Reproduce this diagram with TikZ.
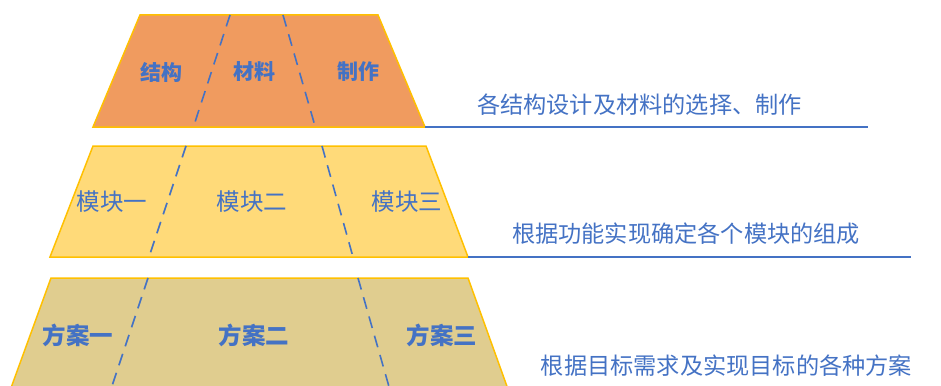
\documentclass[tikz,border=0pt]{standalone}
\usepackage{fontspec}
\setmainfont{Noto Sans CJK SC}
\newfontfamily\cjkb[BoldFont={Noto Sans CJK SC Bold}]{Noto Sans CJK SC}
\definecolor{topfill}{HTML}{F09B5F}
\definecolor{midfill}{HTML}{FFDA79}
\definecolor{botfill}{HTML}{E0CD8F}
\definecolor{edgegold}{HTML}{FFC000}
\definecolor{txtblue}{HTML}{4472C4}
\tikzset{
  layer/.style={draw=edgegold, line width=1.5pt, line join=miter},
  divider/.style={draw=txtblue, line width=1.6pt, dash pattern=on 12pt off 8pt},
  baseline rule/.style={draw=txtblue, line width=1.6pt},
  lbl/.style={text=txtblue, inner sep=0pt, font=\fontsize{23.5}{27}\selectfont},
  lblbold/.style={text=txtblue, inner sep=0pt, font=\fontsize{23.5}{27}\selectfont\bfseries},
  lbltop/.style={text=txtblue, inner sep=0pt, font=\fontsize{21}{25}\selectfont\bfseries},
  desc/.style={text=txtblue, inner sep=0pt, font=\fontsize{23.2}{27}\selectfont},
}
\begin{document}
\begin{tikzpicture}[x=1pt,y=-1pt]
\useasboundingbox (0,0) rectangle (941,385);
\clip (0,0) rectangle (941,385);
% top layer
\path[layer, fill=topfill] (140,15) -- (378,15) -- (425,127) -- (93,127) -- cycle;
\coordinate (t1a) at (230,15); \coordinate (t1b) at (193.4,127);
\coordinate (t2a) at (283,15); \coordinate (t2b) at (315.3,127);
\draw[divider] (t1a) -- (t1b);
\draw[divider] (t2a) -- (t2b);
\node[lbltop] (jg) at (161,72) {结构};
\node[lbltop] (cl) at (254,72) {材料};
\node[lbltop] (zz) at (358,72) {制作};
\coordinate (r1a) at (425,127); \coordinate (r1b) at (868,127);
\draw[baseline rule] (r1a) -- (r1b);
\node[desc] (d1) at (639.5,105) {各结构设计及材料的选择、制作};
% middle layer
\path[layer, fill=midfill] (93,146) -- (426,146) -- (468,257) -- (50,257) -- cycle;
\coordinate (m1a) at (186,146); \coordinate (m1b) at (149,257);
\coordinate (m2a) at (322,146); \coordinate (m2b) at (353,257);
\draw[divider] (m1a) -- (m1b);
\draw[divider] (m2a) -- (m2b);
\node[lbl] (mk1) at (112,202) {模块一};
\node[lbl] (mk2) at (252,202) {模块二};
\node[lbl] (mk3) at (407,202) {模块三};
\coordinate (r2a) at (468,257); \coordinate (r2b) at (911,257);
\draw[baseline rule] (r2a) -- (r2b);
\node[desc] (d2) at (686,234) {根据功能实现确定各个模块的组成};
% bottom layer
\path[layer, fill=botfill] (51,278) -- (468,278) -- (509,392) -- (9.5,392) -- cycle;
\coordinate (b1a) at (148,278); \coordinate (b1b) at (110,392);
\coordinate (b2a) at (358,278); \coordinate (b2b) at (390.5,392);
\draw[divider] (b1a) -- (b1b);
\draw[divider] (b2a) -- (b2b);
\node[lblbold] (fa1) at (78,335) {方案一};
\node[lblbold] (fa2) at (254,335) {方案二};
\node[lblbold] (fa3) at (442,335) {方案三};
\node[desc] (d3) at (726.5,366) {根据目标需求及实现目标的各种方案};
\end{tikzpicture}
\end{document}
